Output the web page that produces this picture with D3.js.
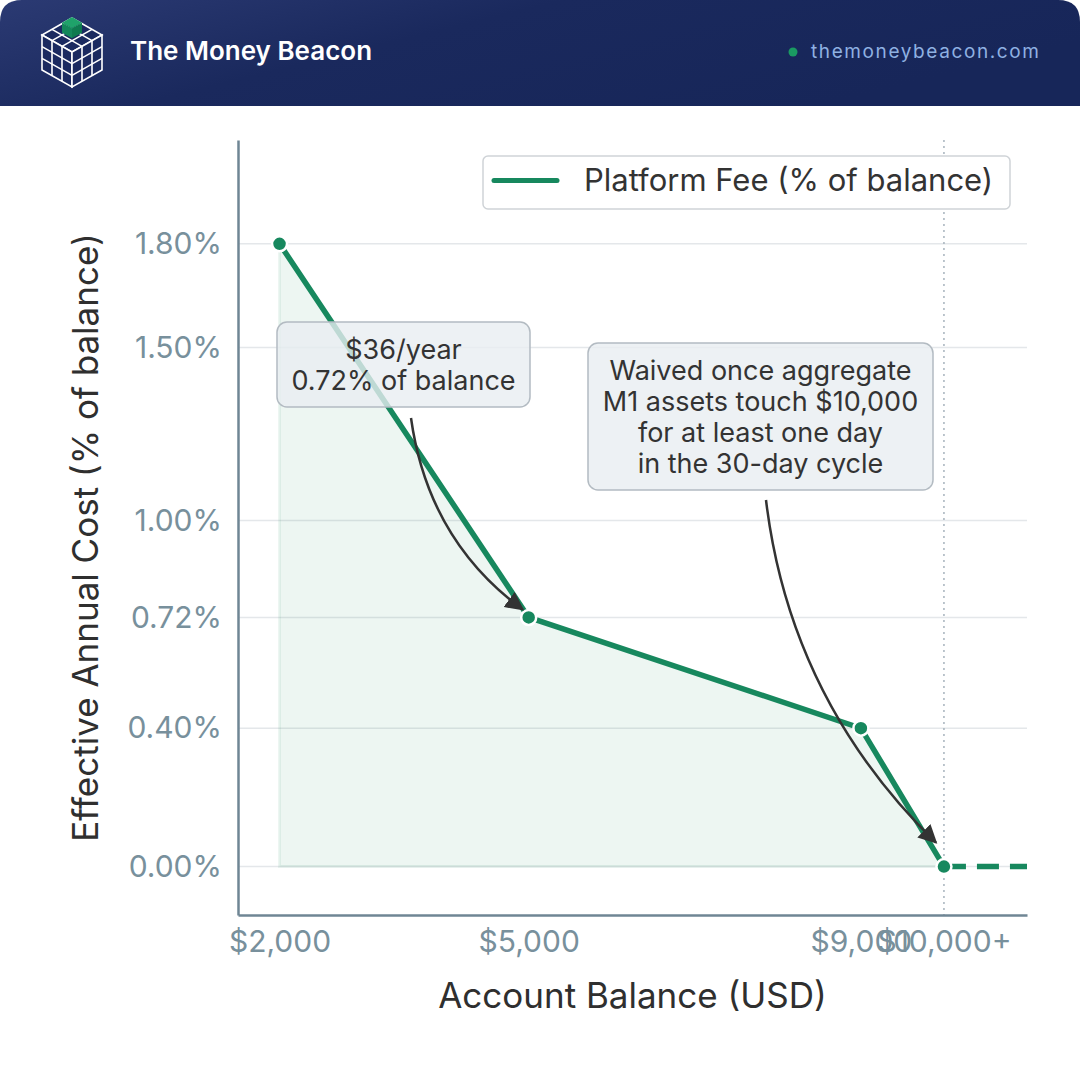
<!DOCTYPE html>
<html>
<head>
<meta charset="utf-8">
<script src="https://cdn.jsdelivr.net/npm/d3@7"></script>
<style>
  html, body { margin: 0; padding: 0; background: #fff; }
  svg { display: block; }
</style>
</head>
<body>
<div id="canvas"></div>
<script>
// fee schedule
const balances = [2000, 5000, 9000, 10000];
const feePct = [1.8, 0.72, 0.4, 0];
const waivedBalances = [10000, 11000];
const waivedPct = [0, 0];
const yTicks = [0, 0.4, 0.72, 1.0, 1.5, 1.8];
const xTicks = [2000, 5000, 9000, 10000];
const xTickLabels = ['$2,000', '$5,000', '$9,000', '$10,000+'];

(function() {
    const W = 1080, H = 1080;
    const green = '#17885e';
    const axisCol = '#6f8694';
    const tickCol = '#78909c';
    const font = 'Inter, "Noto Sans", sans-serif';

    const svg = d3.select('#canvas').append('svg')
        .attr('width', W).attr('height', H)
        .style('font-family', font);

    const defs = svg.append('defs');
    const grad = defs.append('linearGradient').attr('id', 'hdr')
        .attr('x1', '0').attr('y1', '0').attr('x2', '1').attr('y2', '0.4');
    grad.append('stop').attr('offset', '0').attr('stop-color', '#2b3a73');
    grad.append('stop').attr('offset', '0.45').attr('stop-color', '#1a295d');
    grad.append('stop').attr('offset', '1').attr('stop-color', '#172659');

    defs.append('marker').attr('id', 'arrow')
        .attr('viewBox', '0 0 10 10').attr('refX', 9).attr('refY', 5)
        .attr('markerWidth', 7.5).attr('markerHeight', 7.5)
        .attr('markerUnits', 'strokeWidth')
        .attr('orient', 'auto')
        .append('path').attr('d', 'M0,0 L10,5 L0,10 z').attr('fill', '#333');

    // header band with rounded top corners
    const r = 22, hh = 106;
    svg.append('path')
        .attr('d', `M0,${hh} L0,${r} Q0,0 ${r},0 L${W - r},0 Q${W},0 ${W},${r} L${W},${hh} Z`)
        .attr('fill', 'url(#hdr)');

    // logo: isometric 3x3x3 cube
    const logo = svg.append('g').attr('fill', 'none').attr('stroke', '#fff').attr('stroke-width', 1.6);
    const faces = [
        { o: [72, 18], u: [30, 17], v: [-30, 17] },
        { o: [42, 35], u: [30, 17], v: [0, 35] },
        { o: [72, 52], u: [30, -17], v: [0, 35] }
    ];
    faces.forEach(f => {
        const pt = (a, b) => [f.o[0] + f.u[0] * a + f.v[0] * b, f.o[1] + f.u[1] * a + f.v[1] * b];
        logo.append('path')
            .attr('d', 'M' + [pt(0, 0), pt(1, 0), pt(1, 1), pt(0, 1)].join('L') + 'Z')
            .attr('fill', '#1b2a60');
        for (let i = 1; i < 3; i++) {
            logo.append('line').attr('x1', pt(i / 3, 0)[0]).attr('y1', pt(i / 3, 0)[1])
                .attr('x2', pt(i / 3, 1)[0]).attr('y2', pt(i / 3, 1)[1]);
            logo.append('line').attr('x1', pt(0, i / 3)[0]).attr('y1', pt(0, i / 3)[1])
                .attr('x2', pt(1, i / 3)[0]).attr('y2', pt(1, i / 3)[1]);
        }
    });
    // green cube at the top corner
    const tp = faces[0];
    const c = (a, b) => [tp.o[0] + tp.u[0] * a + tp.v[0] * b, tp.o[1] + tp.u[1] * a + tp.v[1] * b];
    const top = [c(0, 0), c(1 / 3, 0), c(1 / 3, 1 / 3), c(0, 1 / 3)].map(p => [p[0], p[1] - 1]);
    logo.append('path').attr('d', 'M' + top.join('L') + 'Z').attr('fill', '#1fa26a').attr('stroke', 'none');
    const drop = 10;
    logo.append('path').attr('d', `M${top[3]}L${top[2]}L${top[2][0]},${top[2][1] + drop}L${top[3][0]},${top[3][1] + drop}Z`)
        .attr('fill', '#13875a').attr('stroke', 'none');
    logo.append('path').attr('d', `M${top[2]}L${top[1]}L${top[1][0]},${top[1][1] + drop}L${top[2][0]},${top[2][1] + drop}Z`)
        .attr('fill', '#0e7a4f').attr('stroke', 'none');

    svg.append('text').attr('x', 130).attr('y', 60)
        .attr('fill', '#fff').attr('font-size', 26).attr('font-weight', 600)
        .text('The Money Beacon');
    svg.append('circle').attr('cx', 793).attr('cy', 52).attr('r', 4.5).attr('fill', '#1a9a62');
    svg.append('text').attr('x', 811).attr('y', 58)
        .attr('fill', '#8fb1e2').attr('font-size', 19).attr('letter-spacing', 1.6)
        .text('themoneybeacon.com');

    // scales
    const x = d3.scaleLinear().domain([1500, 11000]).range([238, 1027]);
    const y = d3.scaleLinear().domain([-0.14, 2.1]).range([915, 140]);

    // gridlines
    svg.append('g').selectAll('line').data(yTicks).join('line')
        .attr('x1', x(1500)).attr('x2', x(11000))
        .attr('y1', d => y(d)).attr('y2', d => y(d))
        .attr('stroke', '#e4e7ea').attr('stroke-width', 1.5);

    // vertical dotted marker at waiver threshold
    svg.append('line')
        .attr('x1', x(10000)).attr('x2', x(10000))
        .attr('y1', y(2.1)).attr('y2', y(-0.14))
        .attr('stroke', '#a7b3bd').attr('stroke-width', 1.5).attr('stroke-dasharray', '2,4');

    const pts = balances.map((b, i) => [b, feePct[i]]);

    // area
    svg.append('path').datum(pts)
        .attr('d', d3.area().x(d => x(d[0])).y0(y(0)).y1(d => y(d[1])))
        .attr('fill', green).attr('fill-opacity', 0.08)
        .attr('stroke', green).attr('stroke-opacity', 0.08).attr('stroke-width', 3);

    // main line
    svg.append('path').datum(pts)
        .attr('d', d3.line().x(d => x(d[0])).y(d => y(d[1])))
        .attr('fill', 'none').attr('stroke', green).attr('stroke-width', 5.5);

    // waived extension
    svg.append('path').datum(waivedBalances.map((b, i) => [b, waivedPct[i]]))
        .attr('d', d3.line().x(d => x(d[0])).y(d => y(d[1])))
        .attr('fill', 'none').attr('stroke', green).attr('stroke-width', 5.5)
        .attr('stroke-dasharray', '22,11');

    svg.append('g').selectAll('circle').data(pts).join('circle')
        .attr('cx', d => x(d[0])).attr('cy', d => y(d[1])).attr('r', 7.5)
        .attr('fill', green).attr('stroke', '#fff').attr('stroke-width', 2.5);

    // axes
    const yAxis = svg.append('g').attr('transform', `translate(${x(1500)},0)`)
        .call(d3.axisLeft(y).tickValues(yTicks).tickSize(0).tickPadding(16)
            .tickFormat(d => d.toFixed(2) + '%'));
    const xAxis = svg.append('g').attr('transform', `translate(0,${y(-0.14)})`)
        .call(d3.axisBottom(x).tickValues(xTicks).tickSize(0).tickPadding(16)
            .tickFormat((d, i) => xTickLabels[i]));
    [xAxis, yAxis].forEach(a => {
        a.select('.domain').attr('stroke', axisCol).attr('stroke-width', 2.5);
        a.selectAll('text').attr('fill', tickCol).attr('font-size', 30).attr('font-family', font);
    });

    svg.append('text').attr('x', x(6250)).attr('y', 1008)
        .attr('text-anchor', 'middle').attr('fill', '#2f2f2f').attr('font-size', 35)
        .text('Account Balance (USD)');
    svg.append('text')
        .attr('transform', `translate(98,${(y(2.1) + y(-0.14)) / 2 + 10}) rotate(-90)`)
        .attr('text-anchor', 'middle').attr('fill', '#2f2f2f').attr('font-size', 35)
        .text('Effective Annual Cost (% of balance)');

    // legend
    const lg = svg.append('g').attr('transform', 'translate(483,156)');
    lg.append('rect').attr('width', 527).attr('height', 53).attr('rx', 5)
        .attr('fill', '#fff').attr('stroke', '#cfd3d7').attr('stroke-width', 1.5);
    lg.append('line').attr('x1', 11).attr('x2', 74).attr('y1', 24.5).attr('y2', 24.5)
        .attr('stroke', green).attr('stroke-width', 5).attr('stroke-linecap', 'round');
    lg.append('text').attr('x', 101).attr('y', 35).attr('font-size', 31).attr('fill', '#333')
        .text('Platform Fee (% of balance)');

    // annotations
    function callout(bx, by, bw, bh, lines, from, to, bend) {
        const g = svg.append('g');
        g.append('rect').attr('x', bx).attr('y', by).attr('width', bw).attr('height', bh).attr('rx', 10)
            .attr('fill', '#e9eef1').attr('fill-opacity', 0.8)
            .attr('stroke', '#b3bbc2').attr('stroke-width', 1.5);
        lines.forEach((t, i) => {
            g.append('text').attr('x', bx + bw / 2).attr('y', by + 37 + i * 31)
                .attr('text-anchor', 'middle').attr('font-size', 27).attr('fill', '#333').text(t);
        });
        const path = d3.path();
        path.moveTo(from[0], from[1]);
        path.quadraticCurveTo(bend[0], bend[1], to[0], to[1]);
        g.append('path').attr('d', path.toString())
            .attr('fill', 'none').attr('stroke', '#333').attr('stroke-width', 2.5)
            .attr('marker-end', 'url(#arrow)');
    }

    callout(277, 322, 253, 85, ['$36/year', '0.72% of balance'],
        [411, 418], [x(5000) - 6, y(0.72) - 8], [428, 540]);
    callout(588, 343, 345, 147,
        ['Waived once aggregate', 'M1 assets touch $10,000', 'for at least one day', 'in the 30-day cycle'],
        [766, 500], [x(10000) - 8, y(0) - 24], [790, 700]);
})();
</script>
</body>
</html>
